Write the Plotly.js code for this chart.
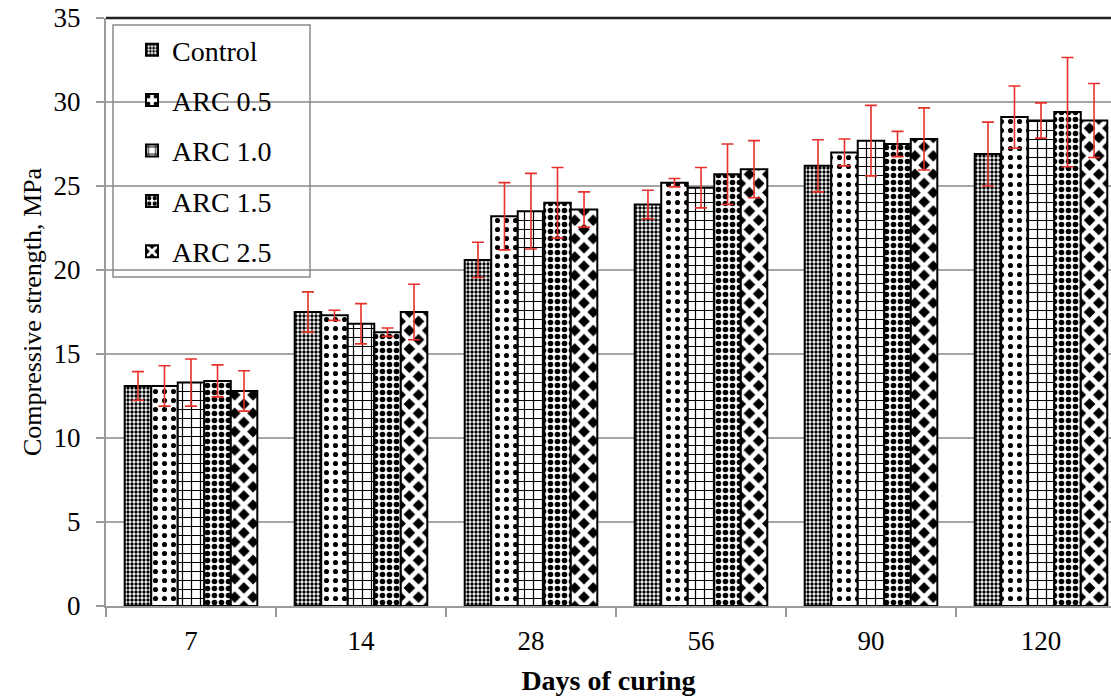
<!DOCTYPE html>
<html>
<head>
<meta charset="utf-8">
<script src="https://cdn.plot.ly/plotly-3.0.1.min.js"></script>
<style>html,body{margin:0;padding:0;background:#fff;}#chart{width:1111px;height:699px;}</style>
</head>
<body>
<div id="chart"></div>
<script>
const days = ['7', '14', '28', '56', '90', '120'];
const seriesNames = ['Control', 'ARC 0.5', 'ARC 1.0', 'ARC 1.5', 'ARC 2.5'];
const control = [13.1, 17.5, 20.6, 23.9, 26.2, 26.9];
const controlErr = [0.85, 1.2, 1.05, 0.85, 1.55, 1.9];
const arc05 = [13.1, 17.3, 23.2, 25.2, 27.0, 29.1];
const arc05Err = [1.2, 0.3, 2.0, 0.25, 0.8, 1.85];
const arc10 = [13.3, 16.8, 23.5, 24.9, 27.7, 28.9];
const arc10Err = [1.4, 1.2, 2.25, 1.2, 2.1, 1.05];
const arc15 = [13.4, 16.3, 24.0, 25.7, 27.5, 29.4];
const arc15Err = [0.95, 0.25, 2.1, 1.8, 0.75, 3.25];
const arc25 = [12.8, 17.5, 23.6, 26.0, 27.8, 28.9];
const arc25Err = [1.2, 1.65, 1.05, 1.7, 1.85, 2.2];

const values = [control, arc05, arc10, arc15, arc25];
const errors = [controlErr, arc05Err, arc10Err, arc15Err, arc25Err];
const patterns = [
  {shape: '.', size: 4, solidity: 0.55, fgcolor: '#000000', bgcolor: '#ffffff'},
  {shape: '.', size: 9, solidity: 0.25, fgcolor: '#000000', bgcolor: '#ffffff'},
  {shape: '+', size: 9, solidity: 0.25, fgcolor: '#000000', bgcolor: '#ffffff'},
  {shape: '.', size: 7, solidity: 0.5, fgcolor: '#000000', bgcolor: '#ffffff'},
  {shape: 'x', size: 13, solidity: 0.6, fgcolor: '#ffffff', bgcolor: '#000000'}
];

const traces = seriesNames.map((name, i) => ({
  type: 'bar',
  name: name,
  x: days,
  y: values[i],
  legendgroup: 'g' + i,
  marker: {
    color: '#ffffff',
    line: {color: '#000000', width: 2},
    pattern: Object.assign({fillmode: 'replace'}, patterns[i])
  },
  error_y: {type: 'data', array: errors[i], visible: true, color: '#e8302a', thickness: 1.6, width: 6}
}));

const L = 106, R = 0, T = 18, B = 93, W = 1111, H = 699;
const pw = W - L - R, ph = H - T - B;
const px = v => (v - L) / pw;
const py = v => (H - B - v) / ph;
const serif = 'Liberation Serif, Times New Roman, serif';

const layout = {
  width: W, height: H,
  margin: {l: L, r: R, t: T, b: B, pad: 0},
  paper_bgcolor: '#ffffff', plot_bgcolor: '#ffffff',
  font: {family: serif, color: '#000', size: 27},
  barmode: 'group', bargap: 0.22, bargroupgap: 0,
  showlegend: true,
  legend: {
    x: px(132), y: py(25), xanchor: 'left', yanchor: 'top',
    bgcolor: 'rgba(0,0,0,0)', borderwidth: 0,
    font: {size: 28, family: serif, color: '#000'},
    tracegroupgap: 11, itemwidth: 30
  },
  xaxis: {
    type: 'category', range: [-0.5, -0.5 + pw / 170],
    showgrid: false, showline: true, linecolor: '#9a9a9a', linewidth: 2,
    ticks: 'outside', tickson: 'boundaries', ticklen: 9, tickcolor: '#9a9a9a', tickwidth: 2,
    tickfont: {size: 27, family: serif}, ticklabelstandoff: 10,
    title: {text: '<b>Days of curing</b>', font: {size: 28, family: serif}, standoff: 15},
    zeroline: false
  },
  yaxis: {
    range: [0, 35], dtick: 5, tick0: 0,
    showgrid: true, gridcolor: '#a6a6a6', gridwidth: 2,
    showline: true, linecolor: '#9a9a9a', linewidth: 2,
    ticks: 'outside', ticklen: 8, tickcolor: '#9a9a9a', tickwidth: 2,
    tickfont: {size: 27, family: serif}, ticklabelstandoff: 10,
    title: {text: 'Compressive strength, MPa', font: {size: 26, family: serif}, standoff: 4},
    zeroline: false
  },
  shapes: [
    {type: 'line', xref: 'paper', yref: 'paper', x0: 0, x1: 1, y0: 1, y1: 1, line: {color: '#222', width: 2.5}, layer: 'above'},
    {type: 'rect', xref: 'paper', yref: 'paper', x0: px(113), x1: px(310), y0: py(277), y1: py(25), line: {color: '#8a8a8a', width: 1.5}, fillcolor: 'rgba(0,0,0,0)', layer: 'above'}
  ]
};

Plotly.newPlot('chart', traces, layout, {displayModeBar: false, staticPlot: true});
</script>
</body>
</html>
